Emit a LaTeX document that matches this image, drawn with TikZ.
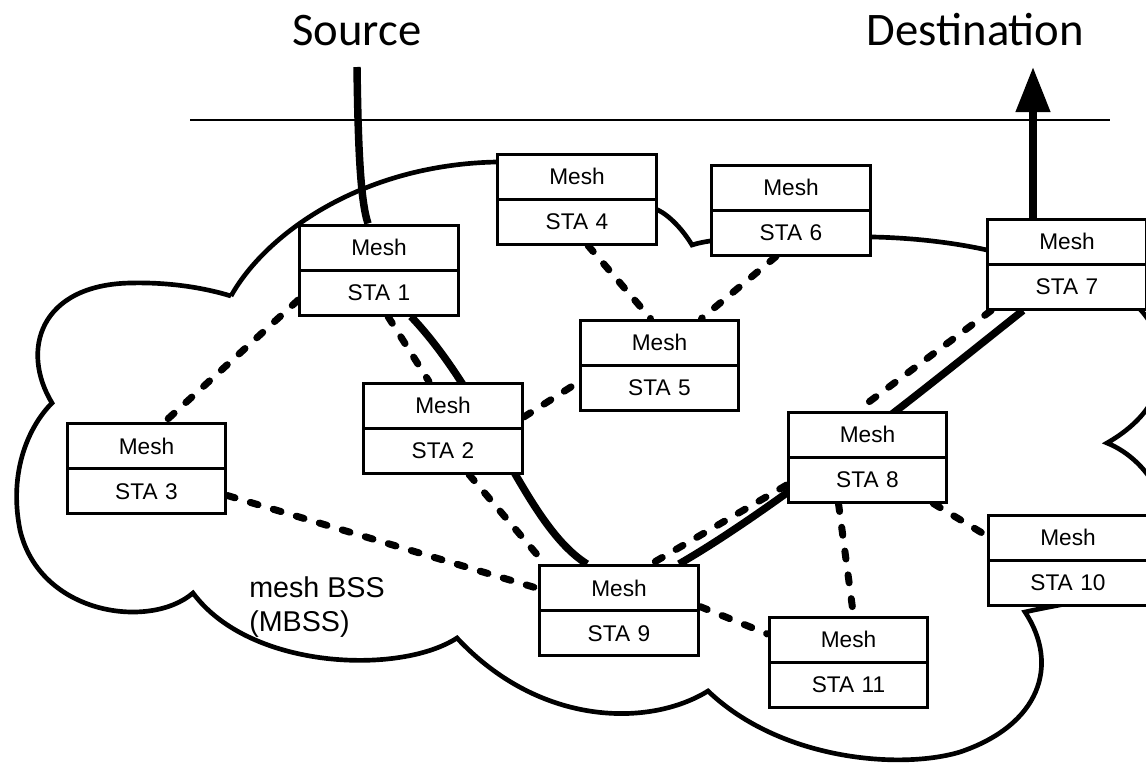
\documentclass[tikz,border=0pt]{standalone}
\usepackage{fontspec}
\usepackage{tikz}
\usetikzlibrary{arrows.meta,calc,backgrounds,shapes.multipart}
\newfontfamily\stafont{Liberation Sans}
\newfontfamily\endfont{Carlito}
\newcommand{\half}{\rule[-9.65pt]{0pt}{31.5pt}}
\tikzset{
  sta/.style     = {rectangle split, rectangle split parts=2, draw, fill=white,
                    line width=2.25pt, inner xsep=0pt, inner ysep=0pt,
                    text width=119pt, align=center,
                    font=\stafont\fontsize{17}{19}\selectfont},
  endlbl/.style  = {font=\endfont\fontsize{35}{42}\selectfont, inner sep=0pt},
  bsslbl/.style  = {font=\stafont\fontsize{21.5}{25.5}\selectfont, align=left,
                    inner sep=0pt},
  hline/.style   = {line width=1.5pt},
  cloudln/.style = {line width=3.5pt},
  route/.style   = {line width=5.6pt},
  routear/.style = {route, -{Triangle[length=33.75pt,width=24.75pt]}},
  linkd/.style   = {line width=5.25pt, dash pattern=on 6pt off 12pt, line cap=round},
}

\begin{document}
\begin{tikzpicture}[x=0.75pt,y=-0.75pt]
\useasboundingbox (0,0) rectangle (1146,765);

% -- mesh stations -----------------------------------------------------------
\foreach \n/\x/\y in {1/379/270, 2/443/428, 3/146.5/468.5, 4/577/199,
                     5/659.5/365, 6/791/210, 7/1067/264, 8/867.5/457,
                     9/619/610.5, 10/1068/560, 11/848.5/662}
  \node[sta] (s\n) at (\x,\y) {\half Mesh\nodepart{two}\half STA \n};

% -- end points and labels ---------------------------------------------------
\node[endlbl, anchor=base] (src) at (357,45) {Source};
\node[endlbl, anchor=base] (dst) at (975.5,45) {Destination};
\coordinate (srcpt) at (357,67);
\coordinate (dstpt) at (1033,67);
\node[bsslbl, anchor=north west] (mbss) at (249,576) {mesh BSS\\(MBSS)};

\begin{scope}[on background layer]
\fill[white] (0,0) rectangle (1146,765);
\draw[hline] (190,120) -- (1110,120);

% -- the MBSS cloud ----------------------------------------------------------
\draw[cloudln] (231,296)
  .. controls (265,235) and (360,165) .. (496,162) -- (658,210)
  .. controls (670,216) and (683,230) .. (692,245)
  .. controls (698,243) and (704,242) .. (710,241) -- (873,237)
  .. controls (920,238) and (960,244) .. (987,250) -- (1100,285)
  .. controls (1160,300) and (1200,390) .. (1107,443)
  .. controls (1150,460) and (1190,520) .. (1150,580)
  .. controls (1110,598) and (1060,604) .. (1025,612)
  .. controls (1060,665) and (1040,725) .. (960,752)
  .. controls (900,770) and (780,760) .. (708,691)
  .. controls (650,727) and (540,727) .. (457,638)
  .. controls (400,675) and (250,670) .. (193,593)
  .. controls (150,630) and (40,615) .. (20,530)
  .. controls (8,470) and (30,425) .. (52,403)
  .. controls (20,350) and (40,285) .. (130,283)
  .. controls (170,282) and (205,288) .. (231,296);

% -- the path source -> destination ------------------------------------------
\draw[route] (srcpt) .. controls (358,140) and (360,200) .. ($(s1.north)+(-11,0)$);
\draw[route] ($(s1.south)+(32,0)$) .. controls (490,400) and (525,525) .. ($(s9.north)+(-32,0)$);
\draw[route] ($(s9.north)+(60,0)$) .. controls (790,500) and (960,360) .. ($(s7.south)+(-44,0)$);
\draw[routear] ($(s7.north)+(-34,0)$) -- (dstpt);

% -- mesh links --------------------------------------------------------------
\draw[linkd] ($(s1.west)+(0,30)$) -- ($(s3.north)+(18,0)$);
\draw[linkd] ($(s1.south)+(9,0)$) -- ($(s2.north)+(-14,0)$);
\draw[linkd] ($(s2.east)+(0,-11)$) -- ($(s5.west)+(0,17)$);
\draw[linkd] ($(s2.south)+(26,0)$) -- ($(s9.north)+(-74,0)$);
\draw[linkd] ($(s3.east)+(0,27)$) -- ($(s9.west)+(0,-22)$);
\draw[linkd] ($(s4.south)+(11,0)$) -- ($(s5.north)+(-9,0)$);
\draw[linkd] ($(s6.south)+(-15,0)$) -- ($(s5.north)+(42,0)$);
\draw[linkd] ($(s7.south west)+(5,0)$) -- ($(s8.north)+(-10,0)$);
\draw[linkd] ($(s8.west)+(0,28)$) -- ($(s9.north)+(32,0)$);
\draw[linkd] ($(s8.south)+(-29,0)$) -- ($(s11.north)+(5,0)$);
\draw[linkd] ($(s8.south east)+(-15,0)$) -- ($(s10.west)+(0,-24)$);
\draw[linkd] ($(s9.east)+(0,-4)$) -- ($(s11.west)+(0,-28)$);
\end{scope}

\end{tikzpicture}
\end{document}
